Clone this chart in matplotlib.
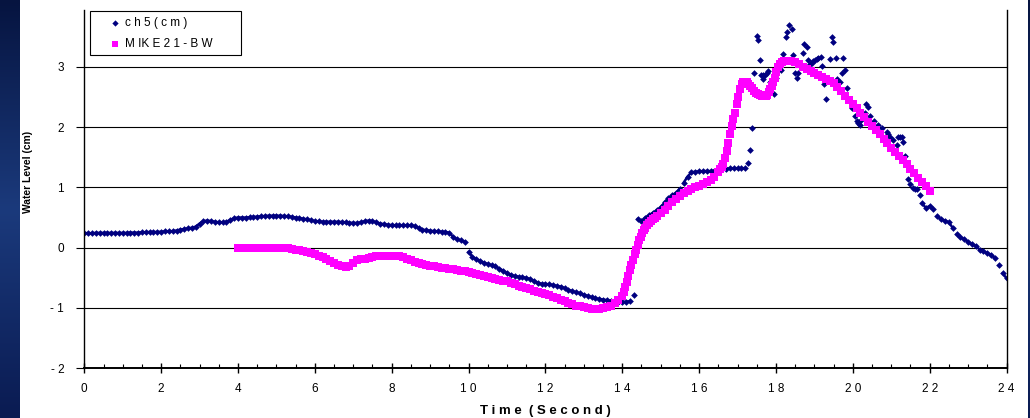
import numpy as np
import matplotlib
matplotlib.use("Agg")
import matplotlib.pyplot as plt
from matplotlib.colors import LinearSegmentedColormap
from matplotlib.patches import Rectangle
from matplotlib.lines import Line2D
from matplotlib.ticker import MultipleLocator

plt.rcParams['font.family'] = ['Liberation Sans', 'DejaVu Sans']

# ch5 gauge, regular part sampled every 0.1 s from t = 0.0 to 17.2
ch5_start, ch5_step = 0.0, 0.1
ch5_level = [
    0.24, 0.24, 0.24, 0.245, 0.245, 0.245, 0.245, 0.245, 0.245, 0.245,
    0.245, 0.245, 0.25, 0.25, 0.25, 0.255, 0.255, 0.26, 0.26, 0.26,
    0.265, 0.27, 0.27, 0.275, 0.285, 0.30, 0.31, 0.32, 0.33, 0.35,
    0.40, 0.44, 0.45, 0.44, 0.43, 0.42, 0.42, 0.43, 0.46, 0.49,
    0.50, 0.50, 0.50, 0.505, 0.51, 0.515, 0.52, 0.525, 0.53, 0.53,
    0.53, 0.53, 0.525, 0.52, 0.51, 0.50, 0.49, 0.48, 0.47, 0.455,
    0.44, 0.435, 0.43, 0.43, 0.43, 0.43, 0.43, 0.425, 0.42, 0.415,
    0.41, 0.41, 0.42, 0.44, 0.45, 0.44, 0.42, 0.40, 0.39, 0.38,
    0.375, 0.37, 0.37, 0.37, 0.37, 0.37, 0.36, 0.33, 0.30, 0.29,
    0.28, 0.275, 0.27, 0.265, 0.26, 0.25, 0.18, 0.14, 0.12, 0.10,
    -0.07, -0.15, -0.19, -0.22, -0.25, -0.27, -0.29, -0.31, -0.35, -0.38,
    -0.42, -0.45, -0.47, -0.48, -0.49, -0.50, -0.52, -0.55, -0.58, -0.60,
    -0.60, -0.61, -0.62, -0.635, -0.645, -0.67, -0.70, -0.72, -0.74, -0.755,
    -0.78, -0.80, -0.82, -0.84, -0.85, -0.86, -0.87, -0.88, -0.89, -0.895,
    -0.895, -0.895, -0.89, -0.78, 0.48, 0.44, 0.50, 0.54, 0.58, 0.62,
    0.67, 0.75, 0.82, 0.87, 0.91, 0.98, 1.08, 1.18, 1.25, 1.26,
    1.265, 1.27, 1.27, 1.27, 1.275, 1.29, 1.30, 1.31, 1.315, 1.315,
    1.315, 1.315, 1.315,
]

# ch5 gauge, scattered readings during the bore
ch5_burst_time = [
    17.28, 17.32, 17.37, 17.43, 17.50, 17.54, 17.58, 17.61, 17.65, 17.67,
    17.71, 17.76, 17.80, 17.84, 17.89, 17.95, 18.00, 18.13, 18.19, 18.26,
    18.30, 18.35, 18.41, 18.45, 18.49, 18.54, 18.58, 18.71, 18.74, 18.80,
    18.84, 18.88, 18.93, 18.97, 19.02, 19.06, 19.10, 19.16, 19.21, 19.25,
    19.29, 19.40, 19.45, 19.49, 19.55, 19.59, 19.66, 19.71, 19.75, 19.79,
    19.84, 19.97, 20.05, 20.10, 20.14, 20.18, 20.22, 20.31, 20.34, 20.40,
    20.45, 20.55, 20.65, 20.75, 20.88, 20.92, 20.97, 21.05, 21.14, 21.18,
    21.23, 21.27, 21.31, 21.36, 21.44, 21.50, 21.57, 21.62, 21.66, 21.75,
]
ch5_burst_level = [
    1.40, 1.62, 1.98, 2.89, 3.51, 3.44, 3.12, 2.86, 2.87, 2.79,
    2.86, 2.90, 2.93, 2.74, 2.71, 2.55, 2.81, 2.95, 3.22, 3.50,
    3.57, 3.70, 3.62, 3.19, 2.90, 2.81, 2.89, 3.23, 3.38, 3.33,
    3.12, 3.04, 3.06, 3.09, 3.11, 3.13, 3.15, 3.16, 3.01, 2.71,
    2.46, 3.13, 3.49, 3.41, 3.14, 2.80, 2.74, 2.90, 3.14, 2.94,
    2.64, 2.32, 2.19, 2.10, 2.06, 2.03, 2.12, 2.24, 2.39, 2.34,
    2.19, 2.10, 2.03, 1.98, 1.92, 1.88, 1.84, 1.78, 1.71, 1.84,
    1.84, 1.84, 1.75, 1.52, 1.14, 1.05, 0.995, 0.98, 0.97, 0.88,
]

# ch5 gauge, tail every 0.1 s from t = 21.8 to 24.0
ch5_tail_start = 21.8
ch5_tail_level = [
    0.74, 0.66, 0.69, 0.64, 0.52, 0.47, 0.45, 0.42, 0.33, 0.22,
    0.17, 0.14, 0.10, 0.06, 0.03, -0.03, -0.06, -0.09, -0.12, -0.17,
    -0.29, -0.42, -0.51,
]

# MIKE21-BW model, every 0.1 s from t = 4.0 to 13.9
mike_start, mike_step = 4.0, 0.1
mike_level = [
    0.0, 0.0, 0.0, 0.0, 0.0, 0.0, 0.0, 0.0, 0.0, 0.0,
    0.0, 0.0, -0.005, -0.01, -0.02, -0.03, -0.045, -0.06, -0.075, -0.09,
    -0.11, -0.13, -0.16, -0.19, -0.22, -0.25, -0.28, -0.305, -0.315, -0.30,
    -0.25, -0.21, -0.19, -0.18, -0.175, -0.16, -0.145, -0.135, -0.13, -0.135,
    -0.14, -0.14, -0.145, -0.16, -0.19, -0.21, -0.23, -0.25, -0.27, -0.29,
    -0.30, -0.31, -0.32, -0.33, -0.34, -0.35, -0.36, -0.37, -0.38, -0.39,
    -0.405, -0.42, -0.435, -0.45, -0.465, -0.48, -0.50, -0.52, -0.54, -0.55,
    -0.56, -0.59, -0.61, -0.63, -0.65, -0.67, -0.69, -0.71, -0.73, -0.75,
    -0.77, -0.79, -0.81, -0.83, -0.86, -0.89, -0.92, -0.94, -0.96, -0.975,
    -0.99, -1.0, -1.01, -1.02, -1.015, -1.005, -0.99, -0.96, -0.92, -0.87,
]

# MIKE21-BW model after t = 14 s (finer output around the fronts)
mike_late_time = [
    14.00, 14.04, 14.08, 14.12, 14.16, 14.20, 14.24, 14.28, 14.32, 14.36,
    14.40, 14.44, 14.48, 14.52, 14.56, 14.60, 14.65, 14.70, 14.75, 14.80,
    14.85, 14.90, 15.0, 15.1, 15.2, 15.3, 15.4, 15.5, 15.6, 15.7,
    15.8, 15.9, 16.0, 16.1, 16.2, 16.3, 16.4, 16.5, 16.55, 16.59,
    16.63, 16.67, 16.72, 16.76, 16.80, 16.85, 16.89, 16.93, 16.98, 17.02,
    17.06, 17.11, 17.15, 17.19, 17.24, 17.28, 17.33, 17.38, 17.43, 17.48,
    17.53, 17.58, 17.63, 17.68, 17.73, 17.78, 17.82, 17.85, 17.89, 17.93,
    17.97, 18.01, 18.06, 18.10, 18.15, 18.20, 18.3, 18.4, 18.5, 18.6,
    18.7, 18.8, 18.9, 19.0, 19.1, 19.2, 19.3, 19.4, 19.5, 19.6,
    19.7, 19.8, 19.9, 20.0, 20.1, 20.2, 20.3, 20.4, 20.5, 20.6,
    20.7, 20.8, 20.9, 21.0, 21.1, 21.2, 21.3, 21.4, 21.5, 21.6,
    21.7, 21.8, 21.9, 22.0,
]
mike_late_level = [
    -0.80, -0.74, -0.66, -0.57, -0.47, -0.37, -0.28, -0.20, -0.11, -0.03,
    0.05, 0.12, 0.18, 0.24, 0.29, 0.33, 0.37, 0.41, 0.44, 0.47,
    0.50, 0.52, 0.57, 0.63, 0.69, 0.75, 0.80, 0.85, 0.90, 0.94,
    0.97, 1.00, 1.02, 1.05, 1.09, 1.13, 1.18, 1.25, 1.30, 1.34,
    1.38, 1.49, 1.60, 1.74, 1.88, 2.01, 2.13, 2.24, 2.38, 2.50,
    2.63, 2.71, 2.74, 2.75, 2.74, 2.71, 2.68, 2.64, 2.60, 2.57,
    2.55, 2.53, 2.52, 2.51, 2.52, 2.54, 2.58, 2.63, 2.68, 2.75,
    2.82, 2.91, 3.00, 3.05, 3.08, 3.09, 3.10, 3.10, 3.08, 3.05,
    3.00, 2.96, 2.93, 2.89, 2.86, 2.83, 2.80, 2.77, 2.73, 2.67,
    2.60, 2.52, 2.45, 2.38, 2.31, 2.23, 2.16, 2.09, 2.02, 1.95,
    1.88, 1.81, 1.74, 1.66, 1.59, 1.52, 1.45, 1.38, 1.31, 1.24,
    1.16, 1.09, 1.02, 0.94,
]

series_labels = ["c h 5 ( c m )", "M IK E 2 1 - B W"]
x_ticks = [0, 2, 4, 6, 8, 10, 12, 14, 16, 18, 20, 22, 24]
x_tick_labels = ["0", "2", "4", "6", "8", "1 0", "1 2", "1 4", "1 6", "1 8", "2 0", "2 2", "2 4"]
y_ticks = [-2, -1, 0, 1, 2, 3]
y_tick_labels = ["- 2", "- 1", "0", "1", "2", "3"]

# time axes for the regularly sampled pieces
ch5_time = ch5_start + ch5_step * np.arange(len(ch5_level))
ch5_tail_time = ch5_tail_start + 0.1 * np.arange(len(ch5_tail_level))
mike_time = mike_start + mike_step * np.arange(len(mike_level))

ch5_t = np.concatenate([ch5_time, ch5_burst_time, ch5_tail_time])
ch5_v = np.concatenate([ch5_level, ch5_burst_level, ch5_tail_level])
mike_t = np.concatenate([mike_time, mike_late_time])
mike_v = np.concatenate([mike_level, mike_late_level])

CH5_COLOR = "#000080"
MIKE_COLOR = "#FF00FF"


def broken_trace(t, v, max_jump=0.1):
    """Insert NaN gaps wherever the gauge jumps, so a joining line stays local."""
    t = np.asarray(t, float)
    v = np.asarray(v, float)
    out_t, out_v = [t[0]], [v[0]]
    for i in range(1, len(t)):
        if abs(v[i] - v[i - 1]) > max_jump:
            out_t.append(np.nan)
            out_v.append(np.nan)
        out_t.append(t[i])
        out_v.append(v[i])
    return np.array(out_t), np.array(out_v)


W, H = 1030, 418
fig = plt.figure(figsize=(W / 100, H / 100), dpi=100)
fig.patch.set_facecolor("white")

# dark slide border on both sides
border = LinearSegmentedColormap.from_list("border", ["#061440", "#1b3a7c", "#0a1b52"])
grad = np.linspace(0, 1, 256).reshape(-1, 1)
for x0, w in [(0, 20), (1028, 2)]:
    bax = fig.add_axes([x0 / W, 0, w / W, 1])
    bax.imshow(grad, cmap=border, aspect="auto", extent=[0, 1, 0, 1])
    bax.set_axis_off()

left, right = 84.3, 1006.5
y_bottom, y_top = 368.3, 9.5
ax = fig.add_axes([left / W, (H - y_bottom) / H, (right - left) / W, (y_bottom - y_top) / H])

# thin joining trace under the densely sampled gauge stretches
for seg_t, seg_v in [(ch5_time, ch5_level), (ch5_tail_time, ch5_tail_level)]:
    bt, bv = broken_trace(seg_t, seg_v)
    ax.plot(bt, bv, color=CH5_COLOR, linewidth=1.8, solid_capstyle="round")

ax.plot(ch5_t, ch5_v, linestyle="none", marker="D", markersize=3.4,
        color=CH5_COLOR, markeredgewidth=0)
ax.plot(mike_t, mike_v, linestyle="none", marker="s", markersize=5.8,
        color=MIKE_COLOR, markeredgewidth=0)

ax.set_xlim(0, 24)
ax.set_ylim(-2, 3.95)
ax.set_xticks(x_ticks)
ax.set_xticklabels(x_tick_labels)
ax.set_yticks(y_ticks)
ax.set_yticklabels(y_tick_labels)
ax.xaxis.set_minor_locator(MultipleLocator(0.5))

ax.yaxis.grid(True, color="black", linewidth=0.8)
ax.set_axisbelow(True)

ax.spines["top"].set_visible(False)
ax.spines["left"].set_linewidth(1.0)
ax.spines["right"].set_linewidth(1.0)
ax.spines["bottom"].set_linewidth(1.4)

ax.tick_params(axis="x", which="major", direction="inout", length=7, width=1.0,
               pad=7, labelsize=8.5)
ax.tick_params(axis="x", which="minor", direction="in", length=3, width=0.8)
ax.tick_params(axis="y", which="major", direction="out", length=5.5, width=0.8,
               pad=9, labelsize=8.5)

ax.set_xlabel("T i m e  ( S e c o n d )", fontsize=9.5, fontweight="bold", labelpad=7)
ax.set_ylabel("Water Level (cm)", fontsize=7.4, fontweight="bold")
ax.yaxis.set_label_coords((33 - left) / (right - left), (y_bottom - 171.7) / (y_bottom - y_top))

# legend box, drawn by hand in figure pixels (origin top-left)
def fx(px):
    return px / W

def fy(py):
    return 1 - py / H

fig.patches.append(Rectangle((fx(89.5), fy(55)), fx(241) - fx(89.5), fy(11) - fy(55),
                             transform=fig.transFigure, facecolor="white",
                             edgecolor="black", linewidth=0.8, zorder=5))
rows = [(22.7, "D", 3.2, CH5_COLOR), (44.3, "s", 5.0, MIKE_COLOR)]
for (py, mk, ms, col), text in zip(rows, series_labels):
    fig.lines.append(Line2D([fx(115)], [fy(py)], transform=fig.transFigure,
                            marker=mk, markersize=ms, color=col,
                            markeredgewidth=0, linestyle="none", zorder=6))
    fig.text(fx(125), fy(py), text, fontsize=8.5, va="center", ha="left", zorder=6)

fig.savefig("out.png", dpi=100, facecolor=fig.get_facecolor())
